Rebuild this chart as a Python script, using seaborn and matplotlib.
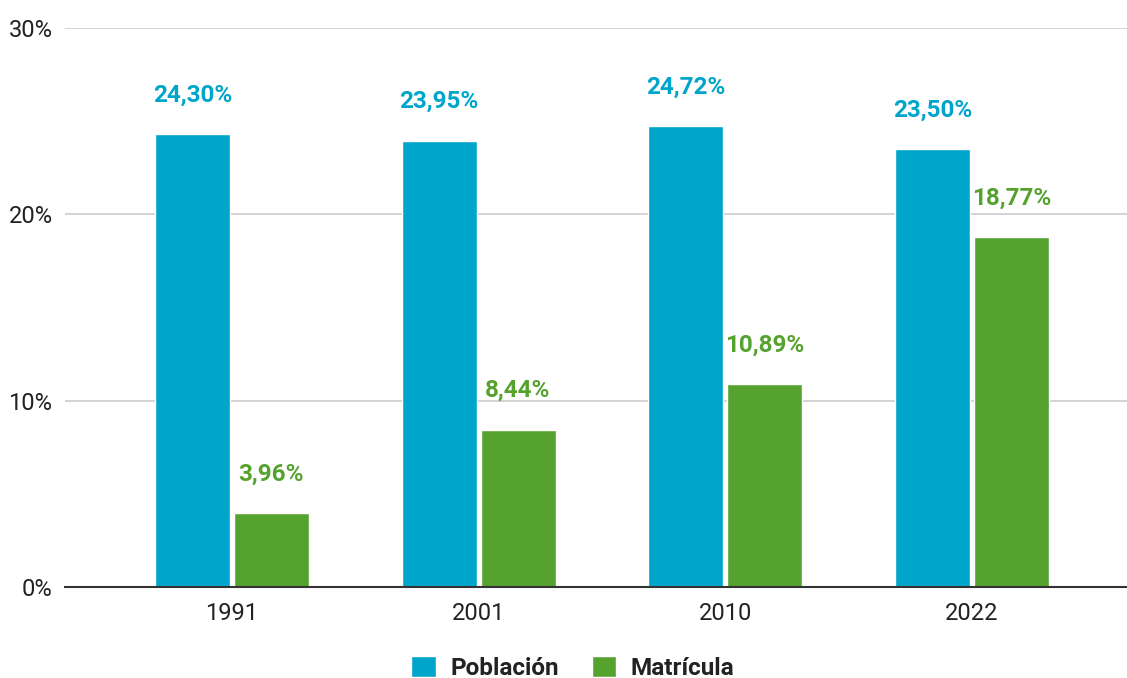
import pandas as pd
import seaborn as sns
import matplotlib.pyplot as plt
from matplotlib.ticker import FuncFormatter

# datos
years = ['1991', '2001', '2010', '2022']
poblacion = [24.30, 23.95, 24.72, 23.50]
matricula = [3.96, 8.44, 10.89, 18.77]
series = ['Población', 'Matrícula']
colors = ['#00A5CB', '#56A22F']

df = pd.DataFrame({
    'year': years * 2,
    'value': poblacion + matricula,
    'serie': [series[0]] * len(years) + [series[1]] * len(years),
})

sns.set_style('white')
plt.rcParams['font.family'] = ['Roboto', 'DejaVu Sans']

fig = plt.figure(figsize=(11.27, 6.78), dpi=100)
ax = fig.add_axes([0.0577, 0.134, 0.9423, 0.8248])

sns.barplot(data=df, x='year', y='value', hue='serie', palette=colors,
            width=0.64, gap=0.05, saturation=1, ax=ax, legend=True)

# etiquetas de valor
for cont, col in zip(ax.containers, colors):
    labels = [f'{v:.2f}%'.replace('.', ',') for v in cont.datavalues]
    ax.bar_label(cont, labels=labels, padding=20, color=col,
                 fontsize=17.5, fontweight='bold')

ax.set_ylim(0, 30)
ax.set_xlim(-0.676, 3.628)
ax.set_yticks([0, 10, 20, 30])
ax.yaxis.set_major_formatter(FuncFormatter(lambda v, p: f'{v:.0f}%'))
ax.grid(axis='y', color='#cccccc', linewidth=1.2)
ax.set_axisbelow(True)
ax.tick_params(axis='both', length=0, labelsize=17, colors='#222222')
ax.tick_params(axis='y', pad=9)
ax.tick_params(axis='x', pad=11)
ax.set_xlabel('')
ax.set_ylabel('')
for s in ['top', 'right', 'left']:
    ax.spines[s].set_visible(False)
ax.spines['bottom'].set_color('#333333')
ax.spines['bottom'].set_linewidth(1.5)

leg = ax.legend(loc='upper center', bbox_to_anchor=(0.478, -0.092), ncol=2,
                frameon=False, prop={'weight': 'bold', 'size': 17.5},
                handlelength=1.0, handleheight=1.0, columnspacing=1.35,
                handletextpad=0.6, borderpad=0.2)
for t in leg.get_texts():
    t.set_color('#222222')

fig.savefig('out.png', dpi=100)
